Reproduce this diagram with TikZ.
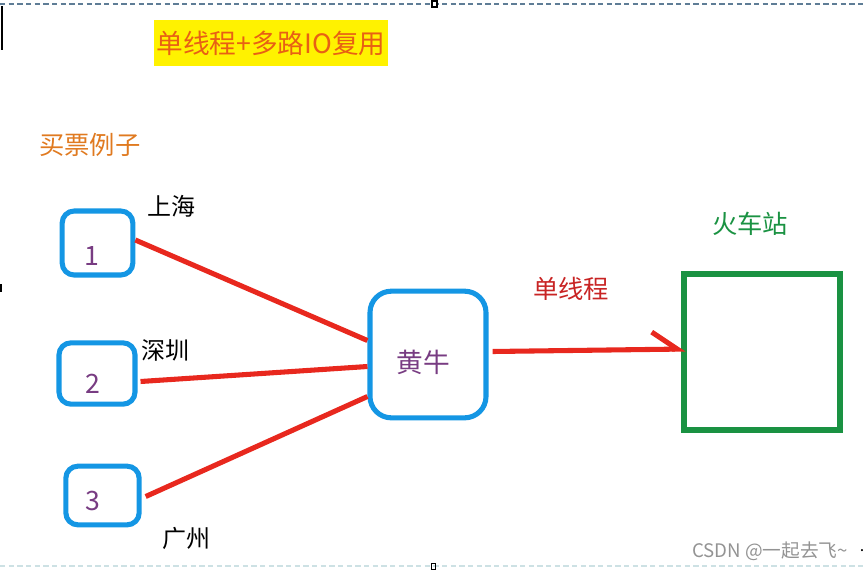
\documentclass[tikz,border=0pt]{standalone}
\usepackage{fontspec}
\setmainfont{Noto Sans CJK SC}
\usetikzlibrary{positioning}
\usetikzlibrary{calc}
\usetikzlibrary{arrows.meta}
\definecolor{boxblue}{RGB}{20,150,228}
\definecolor{linered}{RGB}{232,40,30}
\definecolor{stationgreen}{RGB}{26,146,66}
\definecolor{numpurple}{RGB}{120,60,130}
\definecolor{titleorange}{RGB}{232,96,20}
\definecolor{titleyellow}{RGB}{255,242,0}
\definecolor{exampleorange}{RGB}{224,122,32}
\definecolor{labelred}{RGB}{200,36,36}
\definecolor{framegray}{RGB}{95,125,150}
\definecolor{framelight}{RGB}{205,225,228}

\tikzset{
    citybox/.style={draw=boxblue, line width=3.8pt, rounded corners=9pt},
    numtext/.style={text=numpurple, font=\fontsize{20}{20}\selectfont},
    citytext/.style={text=black, font=\fontsize{18}{18}\selectfont},
    redline/.style={draw=linered, line width=3.8pt},
}

\begin{document}
\begin{tikzpicture}[x=0.75pt, y=-0.75pt]
    \useasboundingbox (0,0) rectangle (865,569);

    % frame marks
    \draw[framegray, line width=1.6pt, dash pattern=on 4pt off 2.5pt] (0,4) -- (865,4);
    \draw[framelight, line width=1.2pt, dash pattern=on 4pt off 2.5pt] (0,566) -- (865,566);
    \draw[black, line width=0.9pt, fill=white] (432,1) rectangle (437,7);
    \draw[black, line width=0.7pt] (431,563) rectangle (435,569);
    \draw[black, line width=0.9pt] (2,6) -- (2,50);
    \draw[black, line width=1.2pt] (1,284) -- (1,292);

    % title
    \node[fill=titleyellow, text=titleorange, minimum width=175pt, minimum height=34pt,
          inner sep=0pt, font=\fontsize{20}{20}\selectfont] (title) at (271,43) {单线程+多路IO复用};
    \node[text=exampleorange, font=\fontsize{19}{19}\selectfont] (example) at (90,145) {买票例子};

    % cities
    \node[citybox, minimum width=53pt, minimum height=48pt] (b1) at (97.5,243) {};
    \node[numtext] (n1) at (92,256) {1};
    \node[citytext] (c1) at (171,206) {上海};

    \node[citybox, minimum width=57pt, minimum height=46pt] (b2) at (97,373.5) {};
    \node[numtext] (n2) at (93,384) {2};
    \node[citytext] (c2) at (165,350) {深圳};

    \node[citybox, minimum width=55pt, minimum height=44pt] (b3) at (102.5,495.5) {};
    \node[numtext] (n3) at (93,501) {3};
    \node[citytext] (c3) at (186,538) {广州};

    % scalper
    \node[citybox, rounded corners=16pt, minimum width=87pt, minimum height=95pt] (hn) at (428,354.5) {};
    \node[numtext] (hntext) at (423,362) {黄牛};

    % station
    \node[draw=stationgreen, line width=3.8pt, minimum width=117pt, minimum height=117pt] (gz) at (762,352) {};
    \node[text=stationgreen, font=\fontsize{19}{19}\selectfont] (gztext) at (750,224) {火车站};
    \node[text=labelred, font=\fontsize{19}{19}\selectfont] (single) at (571,289) {单线程};

    % connectors
    \draw[redline] ($(b1.east)+(0,-3)$) -- ($(hn.west)+(0,-14)$);
    \draw[redline] ($(b2.east)+(3,8)$) -- ($(hn.west)+(0,12)$);
    \draw[redline] ($(b3.east)+(4,1)$) -- ($(hn.west)+(0,42)$);
    \draw[redline, -{Straight Barb[left, length=19pt, width=26pt]}] ($(hn.east)+(4,-3)$) -- ($(gz.west)+(4,-3)$);

    % watermark
    \node[text=gray!85, font=\fontsize{14}{14}\selectfont, inner sep=0pt] (mark) at (770,551) {CSDN @一起去飞\textasciitilde};
    \node[text=black, inner sep=0pt, font=\fontsize{12}{12}\selectfont] (dot) at (862,551) {.};
\end{tikzpicture}
\end{document}
